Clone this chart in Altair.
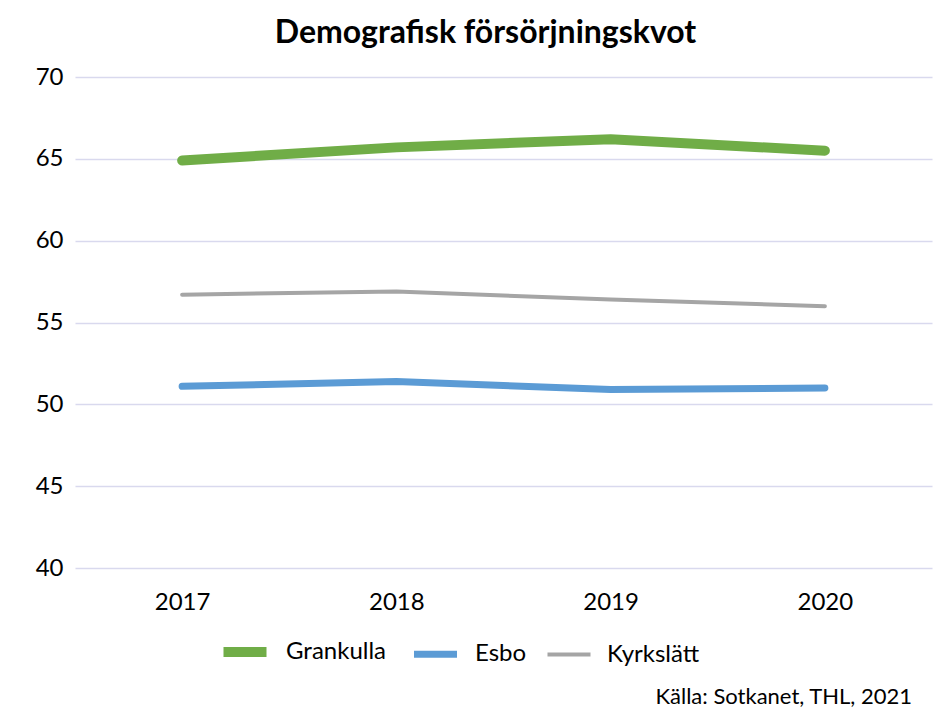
import altair as alt
import pandas as pd

years = ["2017", "2018", "2019", "2020"]
grankulla = [64.9, 65.7, 66.2, 65.5]
esbo = [51.1, 51.4, 50.9, 51.0]
kyrkslatt = [56.7, 56.9, 56.4, 56.0]
series_names = ["Grankulla", "Esbo", "Kyrkslätt"]
series_colors = ["#70AD47", "#5B9BD5", "#A5A5A5"]
series_widths = [10, 4, 4]
y_ticks = [40, 45, 50, 55, 60, 65, 70]
title_text = "Demografisk försörjningskvot"
source_text = "Källa: Sotkanet, THL, 2021"

rows = []
for name, vals in zip(series_names, [grankulla, esbo, kyrkslatt]):
    for yr, v in zip(years, vals):
        rows.append({"År": yr, "Värde": v, "Serie": name})
df = pd.DataFrame(rows)

FONT = "Lato"
W, H = 857, 491

lines = alt.Chart(df).mark_line(strokeCap="round", strokeJoin="round").encode(
    x=alt.X("År:N", sort=years, title=None,
            scale=alt.Scale(paddingInner=0, paddingOuter=0.5),
            axis=alt.Axis(labelAngle=0, domain=False, ticks=False, labelPadding=22,
                          labelFontSize=24, labelColor="#000000", labelFont=FONT)),
    y=alt.Y("Värde:Q", title=None,
            scale=alt.Scale(domain=[40, 70], nice=False, zero=False),
            axis=alt.Axis(values=y_ticks, domain=False, ticks=False, labelPadding=12,
                          labelFontSize=24, labelColor="#000000", labelFont=FONT,
                          gridColor="#D9D9EE", gridWidth=1.5)),
    color=alt.Color("Serie:N", sort=series_names,
                    scale=alt.Scale(domain=series_names, range=series_colors),
                    legend=alt.Legend(title=None, orient="none", direction="horizontal",
                                      legendX=143, legendY=548,
                                      symbolType="stroke", symbolSize=1850,
                                      labelFontSize=24, labelFont=FONT, labelColor="#000000",
                                      labelOffset=14, columnPadding=12)),
    strokeWidth=alt.StrokeWidth("Serie:N", sort=series_names,
                                scale=alt.Scale(domain=series_names, range=series_widths),
                                legend=None),
    detail="Serie:N",
)

source = alt.Chart(pd.DataFrame({"t": [source_text]})).mark_text(
    align="right", baseline="middle", fontSize=22, font=FONT, color="#000000"
).encode(text="t:N", x=alt.value(W - 20), y=alt.value(H + 129))

chart = alt.layer(lines, source).properties(
    width=W, height=H,
    title=alt.TitleParams(title_text, fontSize=32, font=FONT, fontWeight="bold",
                          color="#000000", anchor="middle", offset=15, dx=-18),
    autosize=alt.AutoSizeParams(type="none"),
    padding={"left": 67, "top": 69, "right": 3, "bottom": 142},
).configure_view(stroke=None)

chart.save("out.html", embed_options={"renderer": "svg", "actions": False})
